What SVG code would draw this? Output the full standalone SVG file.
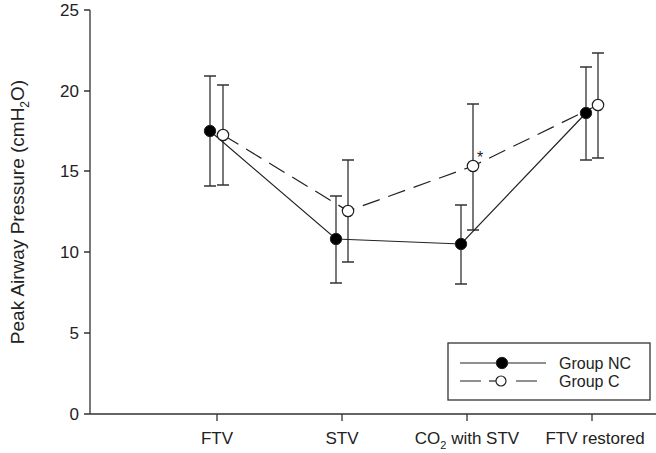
<svg xmlns="http://www.w3.org/2000/svg" width="656" height="453" viewBox="0 0 656 453">
<style>
text{font-family:"Liberation Sans",Arial,sans-serif;fill:#222}
.ax{stroke:#333;stroke-width:1.3;fill:none}
.eb{stroke:#333;stroke-width:1.3;fill:none}
.nc{stroke:#222;stroke-width:1.2;fill:none}
.c{stroke:#222;stroke-width:1.2;fill:none;stroke-dasharray:18 9}
.fnc{fill:#000;stroke:#222;stroke-width:1}
.fc{fill:#fff;stroke:#222;stroke-width:1.2}
.tl{font-size:17px;text-anchor:end}
.xl{font-size:17px;text-anchor:middle}
</style>
<rect width="656" height="453" fill="#fff"/>
<g id="axes">
<path class="ax" d="M90 10V414H656M84 10H90M84 91H90M84 171H90M84 252H90M84 333H90M84 414H90M217 414V421M342 414V421M467 414V421M592 414V421"/>
<text class="tl" x="79" y="16">25</text>
<text class="tl" x="79" y="97">20</text>
<text class="tl" x="79" y="177">15</text>
<text class="tl" x="79" y="258">10</text>
<text class="tl" x="79" y="339">5</text>
<text class="tl" x="79" y="420">0</text>
<text class="xl" x="217" y="444">FTV</text>
<text class="xl" x="342" y="444">STV</text>
<text class="xl" x="467" y="444">CO<tspan font-size="11" dy="5">2</tspan><tspan dy="-5"> with STV</tspan></text>
<text class="xl" x="595" y="444">FTV restored</text>
<text transform="translate(24,212) rotate(-90)" font-size="19" text-anchor="middle">Peak Airway Pressure (cmH<tspan font-size="12" dy="5">2</tspan><tspan dy="-5">O)</tspan></text>
</g>
<g id="connectors">
<path class="eb" d="M210 76V186M204 76H216M204 186H216M223 85V185M217 85H229M217 185H229M336 196V283M330 196H342M330 283H342M348 160V262M342 160H354M342 262H354M461 205V284M455 205H467M455 284H467M473 104V230M467 104H479M467 230H479M586 67V160M580 67H592M580 160H592M598 53V158M592 53H604M592 158H604"/>
<polyline class="nc" points="210,131 336,239 461,244 586,113"/>
<polyline class="c" points="223,135 348,211 473,166 598,105"/>
</g>
<g id="group-nc">
<circle class="fnc" cx="210" cy="131" r="5.7"/><circle class="fnc" cx="336" cy="239" r="5.7"/><circle class="fnc" cx="461" cy="244" r="5.7"/><circle class="fnc" cx="586" cy="113" r="5.7"/>
</g>
<g id="group-c">
<circle class="fc" cx="223" cy="135" r="5.7"/><circle class="fc" cx="348" cy="211" r="5.7"/><circle class="fc" cx="473" cy="166" r="5.7"/><circle class="fc" cx="598" cy="105" r="5.7"/>
<text x="477" y="163" font-size="16">*</text>
</g>
<g id="legend">
<rect x="448" y="343" width="202" height="57" fill="#fff" stroke="#333" stroke-width="1.3"/>
<line class="nc" x1="460" y1="363" x2="546" y2="363"/><circle class="fnc" cx="502" cy="363" r="5.7"/>
<path class="nc" d="M460 381H481M516 381H537"/><path class="nc" d="M489 381H496"/><circle class="fc" cx="501" cy="381" r="5"/>
<text x="559" y="369" font-size="16">Group NC</text>
<text x="559" y="387" font-size="16">Group C</text>
</g>
</svg>
